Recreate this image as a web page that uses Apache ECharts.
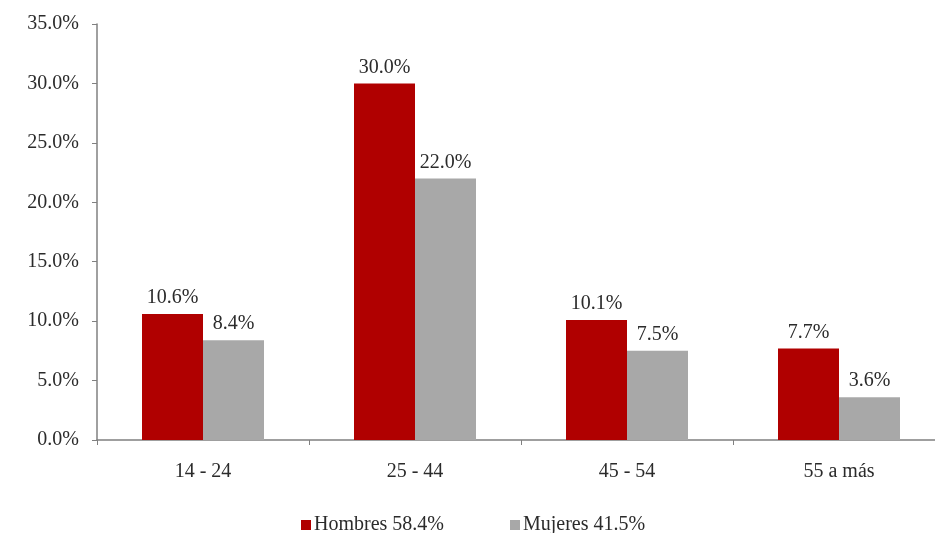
<!DOCTYPE html>
<html>
<head>
<meta charset="utf-8">
<script src="https://cdn.jsdelivr.net/npm/echarts@6/dist/echarts.min.js"></script>
<style>
  html, body { margin: 0; padding: 0; background: #fff; overflow: hidden; }
  /* the plot runs a little past the right edge of the page */
  #chart { width: 945px; height: 533px; }
</style>
</head>
<body>
<div id="chart"></div>
<script>
// Age groups and share of each group by sex (percent)
const categories = ['14 - 24', '25 - 44', '45 - 54', '55 a más'];
const hombres = [10.6, 30.0, 10.1, 7.7];
const mujeres = [8.4, 22.0, 7.5, 3.6];
const seriesNames = ['Hombres 58.4%', 'Mujeres 41.5%'];

const FONT = '"Liberation Serif", "DejaVu Serif", serif';
const TEXT = '#2b2b2b';
const SIZE = 20;

const labelStyle = {
  show: true,
  position: 'top',
  distance: 6,
  fontFamily: FONT,
  fontSize: SIZE,
  color: TEXT,
  formatter: p => p.value.toFixed(1) + '%'
};

const chart = echarts.init(document.getElementById('chart'), null, { renderer: 'canvas' });
chart.setOption({
  animation: false,
  backgroundColor: '#fff',
  grid: { left: 97, right: 0, top: 24, bottom: 93 },
  legend: {
    top: 510,
    left: 296,
    itemWidth: 10,
    itemHeight: 10,
    itemGap: 66,
    icon: 'rect',
    textStyle: { fontFamily: FONT, fontSize: SIZE, color: TEXT, padding: [0, 0, 0, -2] },
    data: seriesNames
  },
  xAxis: {
    type: 'category',
    data: categories,
    axisLine: { lineStyle: { color: '#808080', width: 1.5 } },
    axisTick: { show: true, length: 5, lineStyle: { color: '#808080' } },
    axisLabel: { fontFamily: FONT, fontSize: SIZE, color: TEXT, margin: 22 }
  },
  yAxis: {
    type: 'value',
    min: 0,
    max: 35,
    interval: 5,
    axisLine: { show: true, lineStyle: { color: '#808080', width: 1.5 } },
    axisTick: { show: true, length: 5, lineStyle: { color: '#808080' } },
    splitLine: { show: false },
    axisLabel: {
      fontFamily: FONT, fontSize: SIZE, color: TEXT, margin: 18,
      formatter: v => v.toFixed(1) + '%'
    }
  },
  series: [
    {
      name: seriesNames[0],
      type: 'bar',
      data: hombres,
      barWidth: 61,
      barGap: '0%',
      itemStyle: { color: '#B00000' },
      label: labelStyle
    },
    {
      name: seriesNames[1],
      type: 'bar',
      data: mujeres,
      barWidth: 61,
      barGap: '0%',
      itemStyle: { color: '#A8A8A8' },
      label: labelStyle
    }
  ]
});
</script>
</body>
</html>
